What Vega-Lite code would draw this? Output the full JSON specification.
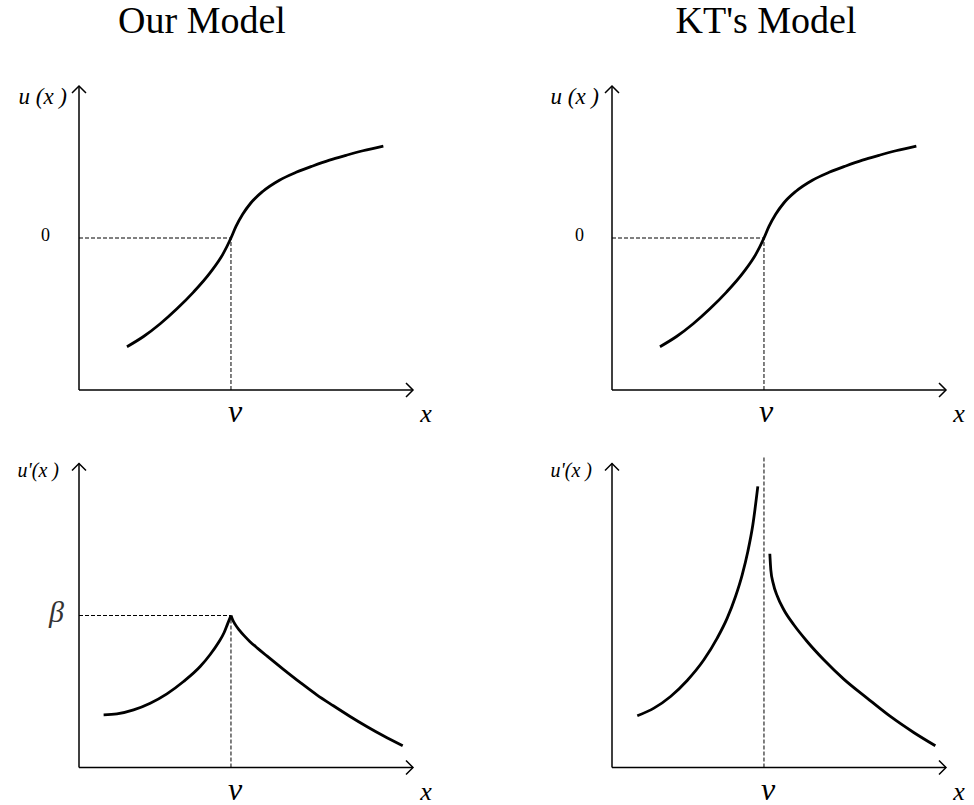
{
  "$schema": "https://vega.github.io/schema/vega-lite/v6.json",
  "padding": {"left": 17, "top": 3, "right": 5, "bottom": 5},
  "background": "white",
  "bounds": "flush",
  "columns": 2,
  "spacing": {"row": 73.5, "column": 199},
  "config": {
    "view": {"stroke": null},
    "font": "Liberation Serif",
    "title": {"font": "Liberation Serif", "fontSize": 38, "fontWeight": "normal", "color": "black", "anchor": "middle", "frame": "group", "baseline": "alphabetic", "offset": 42}
  },
  "datasets": {
    "d": [
      {"p": "TL", "k": "axis", "x": 0, "y": 0, "x2": 10, "y2": 0},
      {"p": "TL", "k": "axis", "x": 0, "y": 0, "x2": 0, "y2": 10},
      {"p": "TL", "k": "arrow", "dir": "right", "x": 10, "y": 0},
      {"p": "TL", "k": "arrow", "dir": "up", "x": 0, "y": 10},
      {"p": "TL", "k": "guide", "x": 0, "y": 5, "x2": 4.55, "y2": 5},
      {"p": "TL", "k": "guide", "x": 4.55, "y": 0, "x2": 4.55, "y2": 5},
      {"p": "TL", "k": "ytitle", "t": "u (x )", "x": 0, "y": 10},
      {"p": "TL", "k": "level", "t": "0", "x": 0, "y": 5},
      {"p": "TL", "k": "vlab", "t": "v", "x": 4.55, "y": 0},
      {"p": "TL", "k": "xlab", "t": "x", "x": 10, "y": 0},
      {"p": "TL", "k": "curve", "s": 1, "x": 1.436, "y": 1.424},
      {"p": "TL", "k": "curve", "s": 1, "x": 1.932, "y": 1.76},
      {"p": "TL", "k": "curve", "s": 1, "x": 2.432, "y": 2.18},
      {"p": "TL", "k": "curve", "s": 1, "x": 2.932, "y": 2.67},
      {"p": "TL", "k": "curve", "s": 1, "x": 3.428, "y": 3.22},
      {"p": "TL", "k": "curve", "s": 1, "x": 3.928, "y": 3.86},
      {"p": "TL", "k": "curve", "s": 1, "x": 4.325, "y": 4.5},
      {"p": "TL", "k": "curve", "s": 1, "x": 4.55, "y": 5.0},
      {"p": "TL", "k": "curve", "s": 1, "x": 4.7, "y": 5.38},
      {"p": "TL", "k": "curve", "s": 1, "x": 4.9, "y": 5.78},
      {"p": "TL", "k": "curve", "s": 1, "x": 5.15, "y": 6.16},
      {"p": "TL", "k": "curve", "s": 1, "x": 5.5, "y": 6.53},
      {"p": "TL", "k": "curve", "s": 1, "x": 6.0, "y": 6.9},
      {"p": "TL", "k": "curve", "s": 1, "x": 6.5, "y": 7.16},
      {"p": "TL", "k": "curve", "s": 1, "x": 7.0, "y": 7.37},
      {"p": "TL", "k": "curve", "s": 1, "x": 7.5, "y": 7.56},
      {"p": "TL", "k": "curve", "s": 1, "x": 8.0, "y": 7.72},
      {"p": "TL", "k": "curve", "s": 1, "x": 8.5, "y": 7.87},
      {"p": "TL", "k": "curve", "s": 1, "x": 9.112, "y": 8.026},

      {"p": "TR", "k": "axis", "x": 0, "y": 0, "x2": 10, "y2": 0},
      {"p": "TR", "k": "axis", "x": 0, "y": 0, "x2": 0, "y2": 10},
      {"p": "TR", "k": "arrow", "dir": "right", "x": 10, "y": 0},
      {"p": "TR", "k": "arrow", "dir": "up", "x": 0, "y": 10},
      {"p": "TR", "k": "guide", "x": 0, "y": 5, "x2": 4.55, "y2": 5},
      {"p": "TR", "k": "guide", "x": 4.55, "y": 0, "x2": 4.55, "y2": 5},
      {"p": "TR", "k": "ytitle", "t": "u (x )", "x": 0, "y": 10},
      {"p": "TR", "k": "level", "t": "0", "x": 0, "y": 5},
      {"p": "TR", "k": "vlab", "t": "v", "x": 4.55, "y": 0},
      {"p": "TR", "k": "xlab", "t": "x", "x": 10, "y": 0},
      {"p": "TR", "k": "curve", "s": 1, "x": 1.436, "y": 1.424},
      {"p": "TR", "k": "curve", "s": 1, "x": 1.932, "y": 1.76},
      {"p": "TR", "k": "curve", "s": 1, "x": 2.432, "y": 2.18},
      {"p": "TR", "k": "curve", "s": 1, "x": 2.932, "y": 2.67},
      {"p": "TR", "k": "curve", "s": 1, "x": 3.428, "y": 3.22},
      {"p": "TR", "k": "curve", "s": 1, "x": 3.928, "y": 3.86},
      {"p": "TR", "k": "curve", "s": 1, "x": 4.325, "y": 4.5},
      {"p": "TR", "k": "curve", "s": 1, "x": 4.55, "y": 5.0},
      {"p": "TR", "k": "curve", "s": 1, "x": 4.7, "y": 5.38},
      {"p": "TR", "k": "curve", "s": 1, "x": 4.9, "y": 5.78},
      {"p": "TR", "k": "curve", "s": 1, "x": 5.15, "y": 6.16},
      {"p": "TR", "k": "curve", "s": 1, "x": 5.5, "y": 6.53},
      {"p": "TR", "k": "curve", "s": 1, "x": 6.0, "y": 6.9},
      {"p": "TR", "k": "curve", "s": 1, "x": 6.5, "y": 7.16},
      {"p": "TR", "k": "curve", "s": 1, "x": 7.0, "y": 7.37},
      {"p": "TR", "k": "curve", "s": 1, "x": 7.5, "y": 7.56},
      {"p": "TR", "k": "curve", "s": 1, "x": 8.0, "y": 7.72},
      {"p": "TR", "k": "curve", "s": 1, "x": 8.5, "y": 7.87},
      {"p": "TR", "k": "curve", "s": 1, "x": 9.112, "y": 8.026},

      {"p": "BL", "k": "axis", "x": 0, "y": 0, "x2": 10, "y2": 0},
      {"p": "BL", "k": "axis", "x": 0, "y": 0, "x2": 0, "y2": 10},
      {"p": "BL", "k": "arrow", "dir": "right", "x": 10, "y": 0},
      {"p": "BL", "k": "arrow", "dir": "up", "x": 0, "y": 10},
      {"p": "BL", "k": "guide", "x": 0, "y": 5, "x2": 4.55, "y2": 5},
      {"p": "BL", "k": "guide", "x": 4.55, "y": 0, "x2": 4.55, "y2": 5},
      {"p": "BL", "k": "dtitle", "t": "u'(x )", "x": 0, "y": 10},
      {"p": "BL", "k": "beta", "t": "β", "x": 0, "y": 5},
      {"p": "BL", "k": "vlab", "t": "v", "x": 4.55, "y": 0},
      {"p": "BL", "k": "xlab", "t": "x", "x": 10, "y": 0},
      {"p": "BL", "k": "curve", "s": 1, "x": 0.737, "y": 1.734},
      {"p": "BL", "k": "curve", "s": 1, "x": 1.136, "y": 1.766},
      {"p": "BL", "k": "curve", "s": 1, "x": 1.634, "y": 1.898},
      {"p": "BL", "k": "curve", "s": 1, "x": 2.133, "y": 2.117},
      {"p": "BL", "k": "curve", "s": 1, "x": 2.632, "y": 2.424},
      {"p": "BL", "k": "curve", "s": 1, "x": 3.13, "y": 2.83},
      {"p": "BL", "k": "curve", "s": 1, "x": 3.628, "y": 3.323},
      {"p": "BL", "k": "curve", "s": 1, "x": 3.928, "y": 3.718},
      {"p": "BL", "k": "curve", "s": 1, "x": 4.177, "y": 4.113},
      {"p": "BL", "k": "curve", "s": 1, "x": 4.346, "y": 4.442},
      {"p": "BL", "k": "curve", "s": 1, "x": 4.446, "y": 4.716},
      {"p": "BL", "k": "curve", "s": 1, "x": 4.55, "y": 5.0},
      {"p": "BL", "k": "curve", "s": 2, "x": 4.55, "y": 5.0},
      {"p": "BL", "k": "curve", "s": 2, "x": 4.6, "y": 4.86},
      {"p": "BL", "k": "curve", "s": 2, "x": 4.68, "y": 4.7},
      {"p": "BL", "k": "curve", "s": 2, "x": 4.8, "y": 4.52},
      {"p": "BL", "k": "curve", "s": 2, "x": 4.95, "y": 4.33},
      {"p": "BL", "k": "curve", "s": 2, "x": 5.12, "y": 4.14},
      {"p": "BL", "k": "curve", "s": 2, "x": 5.35, "y": 3.92},
      {"p": "BL", "k": "curve", "s": 2, "x": 5.624, "y": 3.67},
      {"p": "BL", "k": "curve", "s": 2, "x": 6.12, "y": 3.23},
      {"p": "BL", "k": "curve", "s": 2, "x": 6.62, "y": 2.8},
      {"p": "BL", "k": "curve", "s": 2, "x": 7.119, "y": 2.391},
      {"p": "BL", "k": "curve", "s": 2, "x": 7.616, "y": 2.03},
      {"p": "BL", "k": "curve", "s": 2, "x": 8.116, "y": 1.678},
      {"p": "BL", "k": "curve", "s": 2, "x": 8.615, "y": 1.349},
      {"p": "BL", "k": "curve", "s": 2, "x": 9.112, "y": 1.043},
      {"p": "BL", "k": "curve", "s": 2, "x": 9.692, "y": 0.714},

      {"p": "BR", "k": "axis", "x": 0, "y": 0, "x2": 10, "y2": 0},
      {"p": "BR", "k": "axis", "x": 0, "y": 0, "x2": 0, "y2": 10},
      {"p": "BR", "k": "arrow", "dir": "right", "x": 10, "y": 0},
      {"p": "BR", "k": "arrow", "dir": "up", "x": 0, "y": 10},
      {"p": "BR", "k": "guide", "x": 4.55, "y": 0, "x2": 4.55, "y2": 10.25},
      {"p": "BR", "k": "dtitle", "t": "u'(x )", "x": 0, "y": 10},
      {"p": "BR", "k": "vlab", "t": "v", "x": 4.55, "y": 0},
      {"p": "BR", "k": "xlab", "t": "x", "x": 10, "y": 0},
      {"p": "BR", "k": "curve", "s": 1, "x": 0.757, "y": 1.701},
      {"p": "BR", "k": "curve", "s": 1, "x": 1.256, "y": 1.953},
      {"p": "BR", "k": "curve", "s": 1, "x": 1.754, "y": 2.337},
      {"p": "BR", "k": "curve", "s": 1, "x": 2.252, "y": 2.863},
      {"p": "BR", "k": "curve", "s": 1, "x": 2.751, "y": 3.543},
      {"p": "BR", "k": "curve", "s": 1, "x": 3.15, "y": 4.256},
      {"p": "BR", "k": "curve", "s": 1, "x": 3.449, "y": 4.913},
      {"p": "BR", "k": "curve", "s": 1, "x": 3.698, "y": 5.626},
      {"p": "BR", "k": "curve", "s": 1, "x": 3.898, "y": 6.339},
      {"p": "BR", "k": "curve", "s": 1, "x": 4.067, "y": 7.106},
      {"p": "BR", "k": "curve", "s": 1, "x": 4.217, "y": 7.984},
      {"p": "BR", "k": "curve", "s": 1, "x": 4.366, "y": 9.245},
      {"p": "BR", "k": "curve", "s": 2, "x": 4.725, "y": 7.03},
      {"p": "BR", "k": "curve", "s": 2, "x": 4.755, "y": 6.503},
      {"p": "BR", "k": "curve", "s": 2, "x": 4.825, "y": 6.065},
      {"p": "BR", "k": "curve", "s": 2, "x": 4.945, "y": 5.648},
      {"p": "BR", "k": "curve", "s": 2, "x": 5.144, "y": 5.188},
      {"p": "BR", "k": "curve", "s": 2, "x": 5.443, "y": 4.694},
      {"p": "BR", "k": "curve", "s": 2, "x": 5.842, "y": 4.145},
      {"p": "BR", "k": "curve", "s": 2, "x": 6.341, "y": 3.543},
      {"p": "BR", "k": "curve", "s": 2, "x": 6.939, "y": 2.908},
      {"p": "BR", "k": "curve", "s": 2, "x": 7.637, "y": 2.283},
      {"p": "BR", "k": "curve", "s": 2, "x": 8.335, "y": 1.678},
      {"p": "BR", "k": "curve", "s": 2, "x": 9.033, "y": 1.151},
      {"p": "BR", "k": "curve", "s": 2, "x": 9.681, "y": 0.714}
    ]
  },
  "concat": [
    {
      "title": {"text": "Our Model", "dx": -44},
      "width": 334, "height": 304,
      "data": {"name": "d"},
      "transform": [{"filter": "datum.p === 'TL'"}],
      "encoding": {
        "x": {"field": "x", "type": "quantitative", "scale": {"domain": [0, 10], "nice": false}, "axis": null},
        "y": {"field": "y", "type": "quantitative", "scale": {"domain": [0, 10], "nice": false}, "axis": null}
      },
      "layer": [
        {"transform": [{"filter": "datum.k === 'axis'"}], "mark": {"type": "rule", "color": "black", "strokeWidth": 1.5}, "encoding": {"x2": {"field": "x2"}, "y2": {"field": "y2"}}},
        {"transform": [{"filter": "datum.k === 'guide'"}], "mark": {"type": "rule", "color": "black", "strokeWidth": 1, "strokeDash": [4, 2]}, "encoding": {"x2": {"field": "x2"}, "y2": {"field": "y2"}}},
        {"transform": [{"filter": "datum.k === 'arrow'"}], "mark": {"type": "point", "filled": false, "color": "black", "opacity": 1, "size": 196, "strokeWidth": 1.5}, "encoding": {"shape": {"field": "dir", "type": "nominal", "scale": {"domain": ["right", "up"], "range": ["M-1,-1L0,0L-1,1", "M-1,1L0,0L1,1"]}, "legend": null}}},
        {"transform": [{"filter": "datum.k === 'curve'"}], "mark": {"type": "line", "interpolate": "monotone", "color": "black", "strokeWidth": 2.8}, "encoding": {"detail": {"field": "s", "type": "nominal"}}},
        {"transform": [{"filter": "datum.k === 'ytitle'"}], "mark": {"type": "text", "font": "Liberation Serif", "fontStyle": "italic", "fontSize": 23, "align": "right", "baseline": "middle", "dx": -12, "dy": 11, "color": "black"}, "encoding": {"text": {"field": "t"}}},
        {"transform": [{"filter": "datum.k === 'level'"}], "mark": {"type": "text", "font": "Liberation Serif", "fontSize": 18, "align": "right", "baseline": "middle", "dx": -29, "dy": -2, "color": "black"}, "encoding": {"text": {"field": "t"}}},
        {"transform": [{"filter": "datum.k === 'vlab'"}], "mark": {"type": "text", "font": "Liberation Serif", "fontStyle": "italic", "fontSize": 32, "align": "center", "baseline": "middle", "dx": 4, "dy": 22, "color": "black"}, "encoding": {"text": {"field": "t"}}},
        {"transform": [{"filter": "datum.k === 'xlab'"}], "mark": {"type": "text", "font": "Liberation Serif", "fontStyle": "italic", "fontSize": 26, "align": "center", "baseline": "middle", "dx": 13, "dy": 24, "color": "black"}, "encoding": {"text": {"field": "t"}}}
      ]
    },
    {
      "title": {"text": "KT's Model", "dx": -13},
      "width": 334, "height": 304,
      "data": {"name": "d"},
      "transform": [{"filter": "datum.p === 'TR'"}],
      "encoding": {
        "x": {"field": "x", "type": "quantitative", "scale": {"domain": [0, 10], "nice": false}, "axis": null},
        "y": {"field": "y", "type": "quantitative", "scale": {"domain": [0, 10], "nice": false}, "axis": null}
      },
      "layer": [
        {"transform": [{"filter": "datum.k === 'axis'"}], "mark": {"type": "rule", "color": "black", "strokeWidth": 1.5}, "encoding": {"x2": {"field": "x2"}, "y2": {"field": "y2"}}},
        {"transform": [{"filter": "datum.k === 'guide'"}], "mark": {"type": "rule", "color": "black", "strokeWidth": 1, "strokeDash": [4, 2]}, "encoding": {"x2": {"field": "x2"}, "y2": {"field": "y2"}}},
        {"transform": [{"filter": "datum.k === 'arrow'"}], "mark": {"type": "point", "filled": false, "color": "black", "opacity": 1, "size": 196, "strokeWidth": 1.5}, "encoding": {"shape": {"field": "dir", "type": "nominal", "scale": {"domain": ["right", "up"], "range": ["M-1,-1L0,0L-1,1", "M-1,1L0,0L1,1"]}, "legend": null}}},
        {"transform": [{"filter": "datum.k === 'curve'"}], "mark": {"type": "line", "interpolate": "monotone", "color": "black", "strokeWidth": 2.8}, "encoding": {"detail": {"field": "s", "type": "nominal"}}},
        {"transform": [{"filter": "datum.k === 'ytitle'"}], "mark": {"type": "text", "font": "Liberation Serif", "fontStyle": "italic", "fontSize": 23, "align": "right", "baseline": "middle", "dx": -13, "dy": 11, "color": "black"}, "encoding": {"text": {"field": "t"}}},
        {"transform": [{"filter": "datum.k === 'level'"}], "mark": {"type": "text", "font": "Liberation Serif", "fontSize": 18, "align": "right", "baseline": "middle", "dx": -28, "dy": -2, "color": "black"}, "encoding": {"text": {"field": "t"}}},
        {"transform": [{"filter": "datum.k === 'vlab'"}], "mark": {"type": "text", "font": "Liberation Serif", "fontStyle": "italic", "fontSize": 32, "align": "center", "baseline": "middle", "dx": 2, "dy": 22, "color": "black"}, "encoding": {"text": {"field": "t"}}},
        {"transform": [{"filter": "datum.k === 'xlab'"}], "mark": {"type": "text", "font": "Liberation Serif", "fontStyle": "italic", "fontSize": 26, "align": "center", "baseline": "middle", "dx": 13, "dy": 24, "color": "black"}, "encoding": {"text": {"field": "t"}}}
      ]
    },
    {
      "width": 334, "height": 304,
      "data": {"name": "d"},
      "transform": [{"filter": "datum.p === 'BL'"}],
      "encoding": {
        "x": {"field": "x", "type": "quantitative", "scale": {"domain": [0, 10], "nice": false}, "axis": null},
        "y": {"field": "y", "type": "quantitative", "scale": {"domain": [0, 10], "nice": false}, "axis": null}
      },
      "layer": [
        {"transform": [{"filter": "datum.k === 'axis'"}], "mark": {"type": "rule", "color": "black", "strokeWidth": 1.5}, "encoding": {"x2": {"field": "x2"}, "y2": {"field": "y2"}}},
        {"transform": [{"filter": "datum.k === 'guide'"}], "mark": {"type": "rule", "color": "black", "strokeWidth": 1, "strokeDash": [4, 2]}, "encoding": {"x2": {"field": "x2"}, "y2": {"field": "y2"}}},
        {"transform": [{"filter": "datum.k === 'arrow'"}], "mark": {"type": "point", "filled": false, "color": "black", "opacity": 1, "size": 196, "strokeWidth": 1.5}, "encoding": {"shape": {"field": "dir", "type": "nominal", "scale": {"domain": ["right", "up"], "range": ["M-1,-1L0,0L-1,1", "M-1,1L0,0L1,1"]}, "legend": null}}},
        {"transform": [{"filter": "datum.k === 'curve'"}], "mark": {"type": "line", "interpolate": "monotone", "color": "black", "strokeWidth": 2.8}, "encoding": {"detail": {"field": "s", "type": "nominal"}}},
        {"transform": [{"filter": "datum.k === 'dtitle'"}], "mark": {"type": "text", "font": "Liberation Serif", "fontStyle": "italic", "fontSize": 20, "align": "right", "baseline": "middle", "dx": -20, "dy": 7, "color": "black"}, "encoding": {"text": {"field": "t"}}},
        {"transform": [{"filter": "datum.k === 'beta'"}], "mark": {"type": "text", "font": "Liberation Serif", "fontStyle": "italic", "fontSize": 30, "align": "right", "baseline": "middle", "dx": -15, "dy": -3, "color": "#333"}, "encoding": {"text": {"field": "t"}}},
        {"transform": [{"filter": "datum.k === 'vlab'"}], "mark": {"type": "text", "font": "Liberation Serif", "fontStyle": "italic", "fontSize": 32, "align": "center", "baseline": "middle", "dx": 4, "dy": 22, "color": "black"}, "encoding": {"text": {"field": "t"}}},
        {"transform": [{"filter": "datum.k === 'xlab'"}], "mark": {"type": "text", "font": "Liberation Serif", "fontStyle": "italic", "fontSize": 26, "align": "center", "baseline": "middle", "dx": 13, "dy": 24, "color": "black"}, "encoding": {"text": {"field": "t"}}}
      ]
    },
    {
      "width": 334, "height": 304,
      "data": {"name": "d"},
      "transform": [{"filter": "datum.p === 'BR'"}],
      "encoding": {
        "x": {"field": "x", "type": "quantitative", "scale": {"domain": [0, 10], "nice": false}, "axis": null},
        "y": {"field": "y", "type": "quantitative", "scale": {"domain": [0, 10], "nice": false}, "axis": null}
      },
      "layer": [
        {"transform": [{"filter": "datum.k === 'axis'"}], "mark": {"type": "rule", "color": "black", "strokeWidth": 1.5}, "encoding": {"x2": {"field": "x2"}, "y2": {"field": "y2"}}},
        {"transform": [{"filter": "datum.k === 'guide'"}], "mark": {"type": "rule", "color": "black", "strokeWidth": 1, "strokeDash": [4, 2]}, "encoding": {"x2": {"field": "x2"}, "y2": {"field": "y2"}}},
        {"transform": [{"filter": "datum.k === 'arrow'"}], "mark": {"type": "point", "filled": false, "color": "black", "opacity": 1, "size": 196, "strokeWidth": 1.5}, "encoding": {"shape": {"field": "dir", "type": "nominal", "scale": {"domain": ["right", "up"], "range": ["M-1,-1L0,0L-1,1", "M-1,1L0,0L1,1"]}, "legend": null}}},
        {"transform": [{"filter": "datum.k === 'curve'"}], "mark": {"type": "line", "interpolate": "monotone", "color": "black", "strokeWidth": 2.8}, "encoding": {"detail": {"field": "s", "type": "nominal"}}},
        {"transform": [{"filter": "datum.k === 'dtitle'"}], "mark": {"type": "text", "font": "Liberation Serif", "fontStyle": "italic", "fontSize": 20, "align": "right", "baseline": "middle", "dx": -20, "dy": 7, "color": "black"}, "encoding": {"text": {"field": "t"}}},
        {"transform": [{"filter": "datum.k === 'vlab'"}], "mark": {"type": "text", "font": "Liberation Serif", "fontStyle": "italic", "fontSize": 32, "align": "center", "baseline": "middle", "dx": 4, "dy": 22, "color": "black"}, "encoding": {"text": {"field": "t"}}},
        {"transform": [{"filter": "datum.k === 'xlab'"}], "mark": {"type": "text", "font": "Liberation Serif", "fontStyle": "italic", "fontSize": 26, "align": "center", "baseline": "middle", "dx": 13, "dy": 24, "color": "black"}, "encoding": {"text": {"field": "t"}}}
      ]
    }
  ]
}
